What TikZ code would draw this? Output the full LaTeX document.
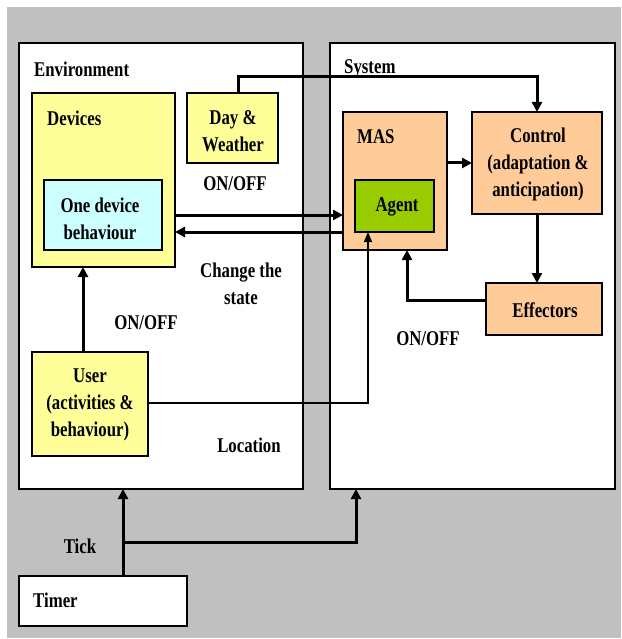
\documentclass[tikz,border=0pt]{standalone}
\usepackage{fontspec}
\setmainfont{Liberation Serif}[FakeStretch=0.8]
\usetikzlibrary{arrows.meta}
\definecolor{bggray}{HTML}{C0C0C0}
\definecolor{devyellow}{HTML}{FFFF99}
\definecolor{devcyan}{HTML}{CCFFFF}
\definecolor{peach}{HTML}{FFCC99}
\definecolor{agentgreen}{HTML}{99CC00}
\begin{document}
\begin{tikzpicture}[x=1pt,y=-1pt,
  box/.style={draw=black, line width=2.4pt, outer sep=0pt, inner sep=0pt, anchor=north west},
  txt/.style={font=\fontsize{21}{27}\selectfont\bfseries, align=center, inner sep=0pt},
  flow/.style={line width=3pt, -{Triangle[length=10pt,width=10pt]}},
  thinflow/.style={line width=1.6pt, -{Triangle[length=10pt,width=8pt]}}]
\useasboundingbox (0,0) rectangle (621,639);
\fill[white] (0,0) rectangle (621,639);
\fill[bggray] (7,7) rectangle (621,638);

% containers
\node[box, fill=white, minimum width=284, minimum height=446] (env) at (19,43) {};
\node[box, fill=white, minimum width=285, minimum height=446] (sys) at (330,43) {};

% environment parts
\node[box, fill=devyellow, minimum width=143, minimum height=174] (dev) at (32,93) {};
\node[box, fill=devcyan, minimum width=118, minimum height=70] (one) at (44,180) {};
\node[box, fill=devyellow, minimum width=91, minimum height=70] (dw) at (187,93) {};
\node[box, fill=devyellow, minimum width=116, minimum height=104] (user) at (32,352) {};

% system parts
\node[box, fill=peach, minimum width=104, minimum height=138] (mas) at (343,112) {};
\node[box, fill=agentgreen, minimum width=79, minimum height=52] (agent) at (355,180) {};
\node[box, fill=peach, minimum width=130, minimum height=102] (ctrl) at (472,112) {};
\node[box, fill=peach, minimum width=116, minimum height=52] (eff) at (486,283) {};

% timer
\node[box, fill=white, line width=1.2pt, minimum width=168, minimum height=50] (timer) at (19,576) {};

% texts
\node[txt, anchor=west] (tenv) at (34,69) {Environment};
\node[txt, anchor=west] (tsys) at (344,69) {System};
\node[txt, anchor=west] (tdev) at (47,118) {Devices};
\node[txt] (tone) at (100,219) {One device\\behaviour};
\node[txt] (tdw) at (233,131) {Day \&\\Weather};
\node[txt] (ton1) at (235,184) {ON/OFF};
\node[txt, anchor=west] (tmas) at (357,137) {MAS};
\node[txt] (tagent) at (397,207) {Agent};
\node[txt] (tctrl) at (538,164) {Control\\(adaptation \&\\anticipation)};
\node[txt] (teff) at (545,310) {Effectors};
\node[txt] (tchg) at (241,284) {Change the\\state};
\node[txt] (ton2) at (146,323) {ON/OFF};
\node[txt] (tuser) at (90,405) {User\\(activities \&\\behaviour)};
\node[txt] (tloc) at (249,445) {Location};
\node[txt] (ton3) at (428,339) {ON/OFF};
\node[txt] (ttick) at (80,546) {Tick};
\node[txt, anchor=west] (ttimer) at (33,600) {Timer};

% connectors
\coordinate (wtop) at (238,77);
\draw[flow] (dw.north -| wtop) -- (wtop) -| (ctrl.north);
\draw[flow] (dev.east |- 0,215) -- (mas.west |- 0,215);
\draw[flow] (mas.west |- 0,232) -- (dev.east |- 0,232);
\draw[flow] (mas.east |- 0,163) -- (ctrl.west |- 0,163);
\draw[flow] (ctrl.south) -- (ctrl.south |- eff.north);
\draw[flow] (eff.west |- 0,300) -| (mas.south -| 407,0);
\draw[thinflow] (user.east |- 0,403) -| (agent.south -| 368,0);
\draw[flow] (user.north -| 83,0) -- (dev.south -| 83,0);
\coordinate (tb) at (123,542);
\draw[flow] (timer.north -| tb) -- (env.south -| tb);
\draw[flow] (tb) -| (sys.south -| 356,0);
\end{tikzpicture}
\end{document}
